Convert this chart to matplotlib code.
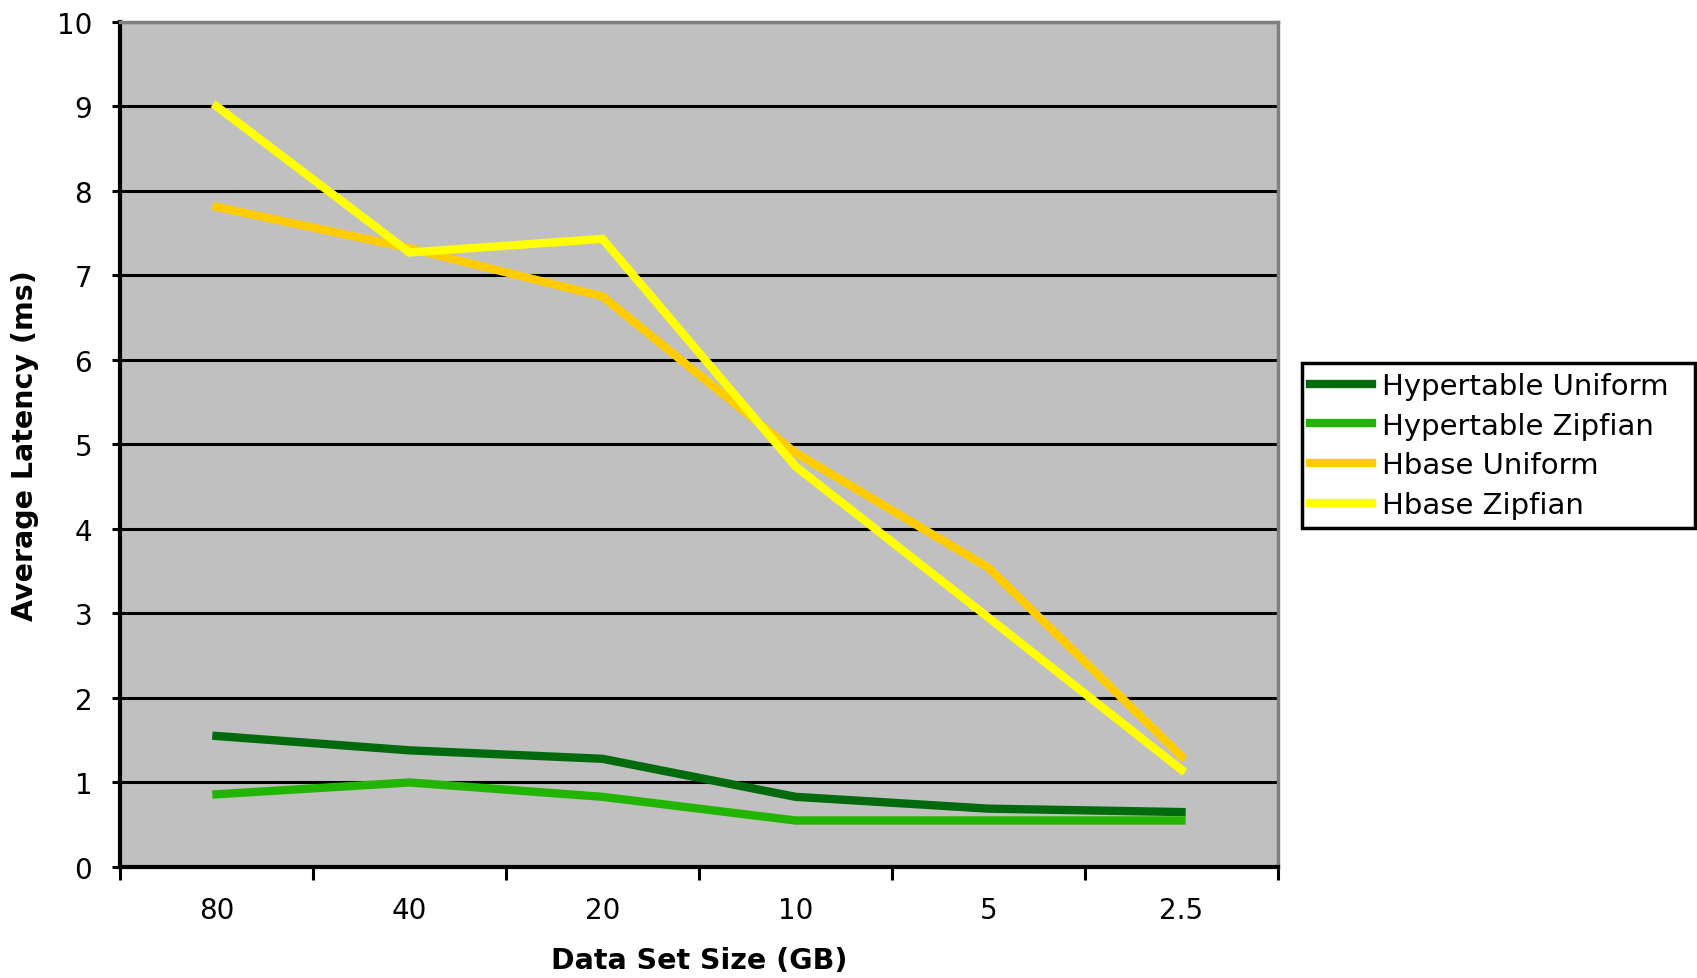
import numpy as np
import matplotlib.pyplot as plt

# dataset sizes (GB) and average latency (ms)
sizes = ["80", "40", "20", "10", "5", "2.5"]
ht_uniform = [1.55, 1.38, 1.28, 0.83, 0.69, 0.65]
ht_zipfian = [0.86, 1.00, 0.83, 0.55, 0.55, 0.55]
hb_uniform = [7.81, 7.32, 6.75, 4.90, 3.54, 1.31]
hb_zipfian = [9.00, 7.27, 7.43, 4.74, 2.95, 1.15]

series_names = ["Hypertable Uniform", "Hypertable Zipfian", "Hbase Uniform", "Hbase Zipfian"]
series_colors = ["#006a0c", "#22b500", "#ffcc00", "#ffff00"]

fig = plt.figure(figsize=(16.97, 9.79), dpi=100)
ax = fig.add_axes([0.0707, 0.1134, 0.6824, 0.8634])
ax.set_facecolor("#c0c0c0")

x = np.arange(len(sizes))
for vals, name, col in zip([ht_uniform, ht_zipfian, hb_uniform, hb_zipfian], series_names, series_colors):
    ax.plot(x, vals, color=col, lw=6, label=name, solid_joinstyle="miter")

ax.set_xlim(-0.5, len(sizes) - 0.5)
ax.set_ylim(0, 10)
ax.set_yticks(np.arange(0, 11, 1))
ax.yaxis.grid(True, color="black", lw=2.2)
ax.set_axisbelow(True)

# category boundaries get tick marks, centres get the labels
ax.set_xticks(np.arange(-0.5, len(sizes), 1.0))
ax.set_xticklabels([])
ax.set_xticks(x, minor=True)
ax.set_xticklabels(sizes, minor=True)
ax.tick_params(axis="x", which="major", length=9, width=2.2, color="black")
ax.tick_params(axis="x", which="minor", length=0, pad=21, labelsize=20)
ax.tick_params(axis="y", length=6, width=2.2, labelsize=20, pad=14)

for s in ["left", "bottom"]:
    ax.spines[s].set_linewidth(3)
    ax.spines[s].set_color("black")
for s in ["top", "right"]:
    ax.spines[s].set_linewidth(2.5)
    ax.spines[s].set_color("#808080")

ax.set_xlabel("Data Set Size (GB)", fontsize=20.5, fontweight="bold")
ax.set_ylabel("Average Latency (ms)", fontsize=20.5, fontweight="bold")
ax.xaxis.set_label_coords(0.5, -0.093)
ax.yaxis.set_label_coords(-0.07, 0.5)

# legend box runs out to the right edge of the figure
leg = fig.legend(loc="upper left", bbox_to_anchor=(0.767, 0.3, 0.232, 0.328), mode="expand",
                 fontsize=21, frameon=True, fancybox=False, handlelength=2.1,
                 handletextpad=0.35, labelspacing=0.4, borderpad=0.3, borderaxespad=0,
                 edgecolor="black", framealpha=1)
leg.get_frame().set_linewidth(2.5)

fig.savefig("out.png", dpi=100)
